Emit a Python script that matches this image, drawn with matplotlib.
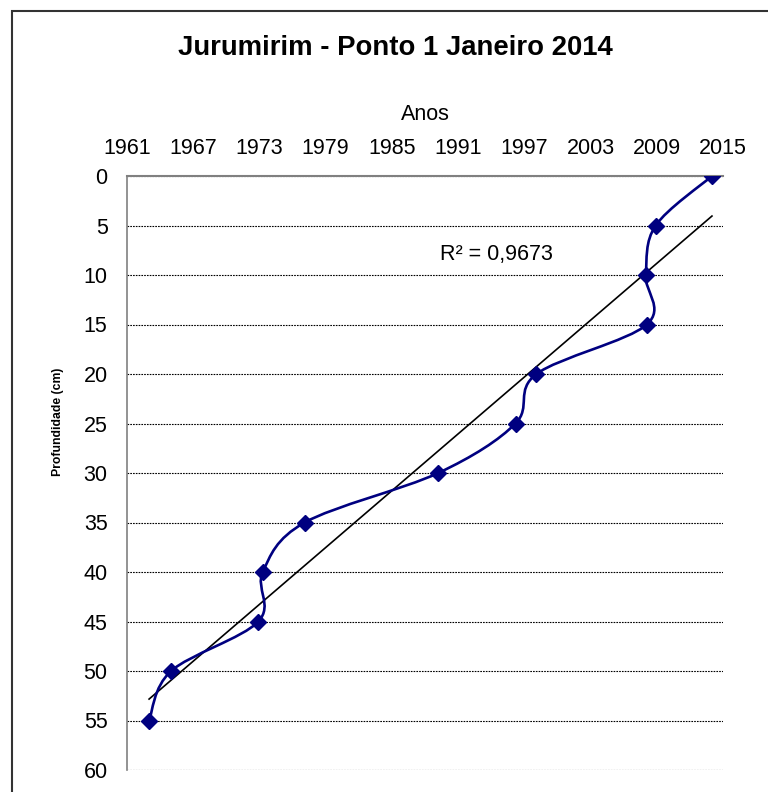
import matplotlib
matplotlib.use('Agg')
import matplotlib.pyplot as plt
from matplotlib.path import Path
from matplotlib.patches import PathPatch, Rectangle
import numpy as np

plt.rcParams['font.family'] = ['Liberation Sans', 'DejaVu Sans']

# data
anos = [2014.0, 2008.9, 2008.0, 2008.1, 1998.1, 1996.2, 1989.2, 1977.1, 1973.3, 1972.9, 1965.0, 1963.0]
profundidade = [0, 5, 10, 15, 20, 25, 30, 35, 40, 45, 50, 55]
xticks = [1961, 1967, 1973, 1979, 1985, 1991, 1997, 2003, 2009, 2015]
yticks = [0, 5, 10, 15, 20, 25, 30, 35, 40, 45, 50, 55, 60]
r2_label = "R² = 0,9673"

x = np.array(anos)
y = np.array(profundidade, dtype=float)

fig = plt.figure(figsize=(7.68, 7.92), dpi=100)
ax = fig.add_axes([127 / 768, 1 - 770 / 792, (723 - 127) / 768, (770 - 176) / 792])

# Excel-like smoothed line (Catmull-Rom bezier)
pts = np.column_stack([x, y])
n = len(pts)
verts = [pts[0]]
codes = [Path.MOVETO]
for i in range(n - 1):
    p0 = pts[i - 1] if i > 0 else pts[i]
    p1 = pts[i]
    p2 = pts[i + 1]
    p3 = pts[i + 2] if i + 2 < n else pts[i + 1]
    c1 = p1 + (p2 - p0) / 6
    c2 = p2 - (p3 - p1) / 6
    verts += [c1, c2, p2]
    codes += [Path.CURVE4] * 3
ax.add_patch(PathPatch(Path(verts, codes), facecolor='none', edgecolor='#000080', lw=1.9, zorder=3))
ax.plot(x, y, linestyle='none', marker='D', markersize=8, color='#000080', zorder=4)

# linear trendline
a, b = np.polyfit(x, y, 1)
xt = np.array([x.min(), x.max()])
ax.plot(xt, a * xt + b, color='black', lw=1.2, zorder=2)

ax.text(1994.5, 7.9, r2_label, fontsize=15.5, ha='center', va='center')

ax.set_xlim(1961, 2015)
ax.set_ylim(60, 0)
ax.set_xticks(xticks)
ax.set_yticks(yticks)
ax.xaxis.tick_top()
ax.xaxis.set_label_position('top')
ax.tick_params(axis='both', length=0, labelsize=15.5)
ax.tick_params(axis='x', pad=12)
ax.tick_params(axis='y', pad=14)
ax.set_xlabel('Anos', fontsize=15.5)
ax.xaxis.set_label_coords(0.5, (770 - 115) / 594)
ax.xaxis.label.set_va('center')
ax.set_ylabel('Profundidade (cm)', fontsize=8.8, fontweight='bold')
ax.yaxis.set_label_coords(-(127 - 58) / 596, (770 - 422) / 594)
ax.yaxis.label.set_va('center')

ax.grid(axis='y', linestyle=(0, (1.5, 1)), color='black', lw=0.8)
ax.spines['right'].set_visible(False)
ax.spines['bottom'].set_visible(False)
ax.spines['top'].set_color('#808080')
ax.spines['top'].set_linewidth(1.5)
ax.spines['left'].set_color('#808080')
ax.spines['left'].set_linewidth(1.2)

fig.text(395 / 768, 1 - 48 / 792, 'Jurumirim - Ponto 1 Janeiro 2014', fontsize=19.8,
         fontweight='bold', ha='center', va='center')

fig.patches.append(Rectangle((12 / 768, -0.1), 1.2, 1.1 - 11 / 792, transform=fig.transFigure,
                             fill=False, edgecolor='#333333', lw=1.5))

fig.savefig('out.png', dpi=100)
